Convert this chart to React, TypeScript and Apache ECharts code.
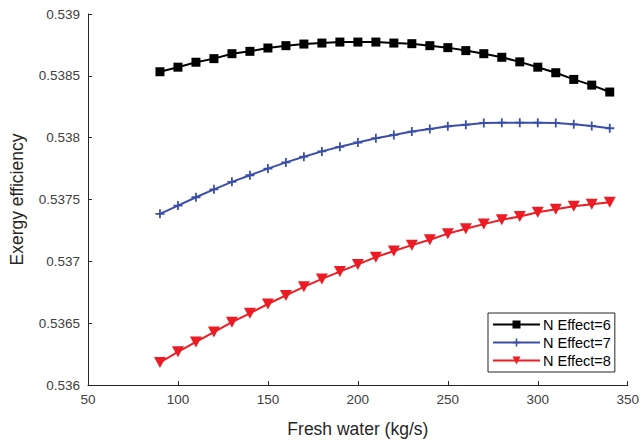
import React, { useEffect, useRef } from "react";
import * as echarts from "echarts";

const freshWater = [90, 100, 110, 120, 130, 140, 150, 160, 170, 180, 190, 200, 210, 220, 230, 240, 250, 260, 270, 280, 290, 300, 310, 320, 330, 340];

const effect6 = [0.538533, 0.53857, 0.53861, 0.538639, 0.538679, 0.538698, 0.538725, 0.538744, 0.538757, 0.538765, 0.538773, 0.538773, 0.538773, 0.538765, 0.53876, 0.538744, 0.538728, 0.538704, 0.538679, 0.53865, 0.538613, 0.53857, 0.538525, 0.538471, 0.538425, 0.538369];

const effect7 = [0.537384, 0.537451, 0.537518, 0.537582, 0.537643, 0.537696, 0.53775, 0.5378, 0.537846, 0.537889, 0.537926, 0.537961, 0.537996, 0.538022, 0.538049, 0.538071, 0.538092, 0.538105, 0.538119, 0.538121, 0.538121, 0.538121, 0.538119, 0.538108, 0.538095, 0.538076];

const effect8 = [0.536182, 0.536268, 0.536348, 0.536428, 0.536508, 0.53658, 0.536655, 0.536724, 0.536794, 0.536858, 0.536917, 0.536975, 0.537034, 0.537083, 0.537131, 0.537175, 0.537224, 0.537264, 0.537301, 0.537336, 0.537363, 0.537397, 0.537421, 0.537446, 0.537462, 0.537478];

const seriesNames = ["N Effect=6", "N Effect=7", "N Effect=8"];

const PLUS = "path://M4,0H6V4H10V6H6V10H4V6H0V4H4Z";

export default function App() {
  const ref = useRef<HTMLDivElement>(null);
  useEffect(() => {
    if (!ref.current) return;
    const chart = echarts.init(ref.current, undefined, { renderer: "svg" });
    const pair = (ys: number[]) => freshWater.map((x, i) => [x, ys[i]]);
    const axisColor = "#262626";
    const font = "Liberation Sans, Arial, sans-serif";
    const labelStyle = { color: "#404040", fontSize: 13.5, fontFamily: font };
    chart.setOption({
      animation: false,
      backgroundColor: "#ffffff",
      grid: { left: 86, right: 14, top: 14, bottom: 55, containLabel: false },
      legend: {
        orient: "vertical",
        left: 488,
        top: 313,
        padding: [4, 4, 4, 4],
        itemGap: 3,
        itemWidth: 47,
        itemHeight: 10,
        borderColor: "#262626",
        borderWidth: 1,
        backgroundColor: "#ffffff",
        textStyle: { color: "#000", fontSize: 14.5, fontFamily: font, padding: [0, 0, 0, -2] },
        data: seriesNames,
      },
      xAxis: {
        type: "value",
        min: 50,
        max: 350,
        interval: 50,
        name: "Fresh water (kg/s)",
        nameLocation: "middle",
        nameGap: 35,
        nameTextStyle: { color: "#262626", fontSize: 17.5, fontFamily: font },
        axisLine: { show: true, lineStyle: { color: axisColor, width: 1 } },
        axisTick: { show: true, inside: true, length: 4, lineStyle: { color: axisColor } },
        axisLabel: { ...labelStyle, margin: 7 },
        splitLine: { show: false },
      },
      yAxis: {
        type: "value",
        min: 0.536,
        max: 0.539,
        interval: 0.0005,
        name: "Exergy efficiency",
        nameLocation: "middle",
        nameGap: 62,
        nameTextStyle: { color: "#262626", fontSize: 17.5, fontFamily: font },
        axisLine: { show: true, lineStyle: { color: axisColor, width: 1 } },
        axisTick: { show: true, inside: true, length: 4, lineStyle: { color: axisColor } },
        axisLabel: { ...labelStyle, margin: 8, formatter: (v: number) => String(+v.toFixed(4)) },
        splitLine: { show: false },
      },
      series: [
        {
          name: seriesNames[0],
          type: "line",
          data: pair(effect6),
          color: "#000000",
          lineStyle: { width: 2, color: "#000000" },
          symbol: "rect",
          symbolSize: 9,
          itemStyle: { color: "#000000" },
        },
        {
          name: seriesNames[1],
          type: "line",
          data: pair(effect7),
          color: "#3b4fa8",
          lineStyle: { width: 2, color: "#3b4fa8" },
          symbol: PLUS,
          symbolSize: 9,
          itemStyle: { color: "#3b4fa8" },
        },
        {
          name: seriesNames[2],
          type: "line",
          data: pair(effect8),
          color: "#ec1c24",
          lineStyle: { width: 2, color: "#ec1c24" },
          symbol: "triangle",
          symbolRotate: 180,
          symbolSize: [12, 11],
          itemStyle: { color: "#ec1c24" },
        },
      ],
    });
    return () => chart.dispose();
  }, []);
  return (
    <div
      ref={ref}
      style={{ position: "fixed", left: 0, top: 0, width: 642, height: 443, background: "#fff" }}
    />
  );
}
